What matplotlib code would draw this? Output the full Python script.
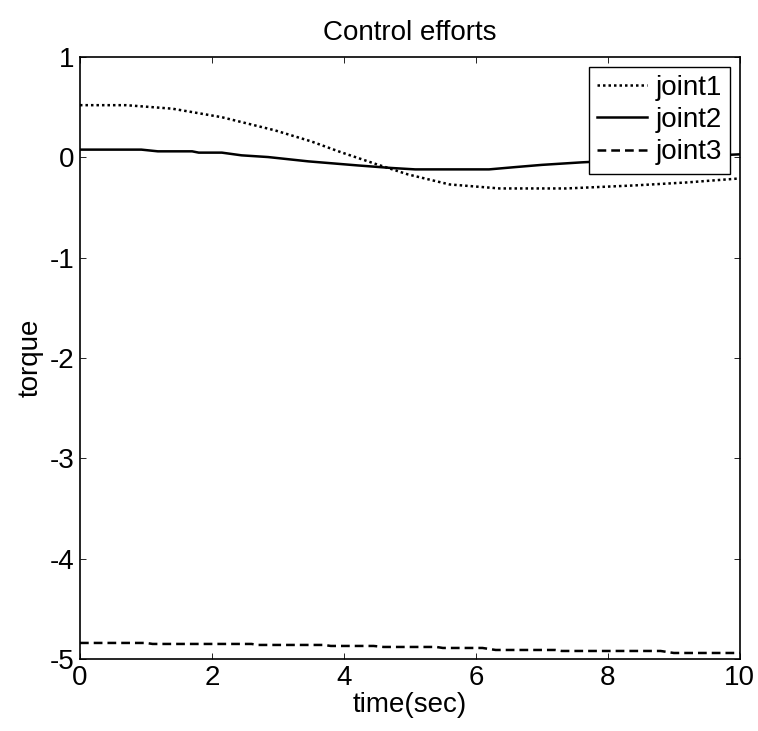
import numpy as np
import matplotlib
matplotlib.use("Agg")
import matplotlib.pyplot as plt

plt.rcParams['font.family'] = ['Liberation Sans', 'DejaVu Sans']
plt.rcParams['axes.unicode_minus'] = False

# joint1 (dotted)
t1 = [0, 0.7, 1.4, 2.15, 2.95, 3.5, 3.96, 4.5, 4.97, 5.6, 6.36, 7.37, 8.4, 9.2, 10]
j1 = [0.52, 0.52, 0.485, 0.40, 0.27, 0.16, 0.05, -0.07, -0.17, -0.27, -0.31, -0.31, -0.28, -0.25, -0.21]

# joint2 (solid)
t2 = [0, 0.93, 1.18, 1.7, 1.8, 2.15, 2.45, 2.85, 3.46, 4.2, 4.72, 5.08, 6.2, 6.6, 7.0, 7.6, 8.5, 9.3, 10]
j2 = [0.077, 0.077, 0.06, 0.06, 0.047, 0.047, 0.02, 0.003, -0.04, -0.08, -0.106, -0.12, -0.12, -0.097,
      -0.075, -0.05, -0.02, 0.01, 0.03]

# joint3 (dashed)
t3 = [0, 1.0, 1.1, 2.6, 2.7, 3.7, 3.8, 4.45, 4.6, 5.4, 5.5, 6.1, 6.3, 7.2, 7.3, 8.8, 9.0, 10]
j3 = [-4.84, -4.84, -4.85, -4.85, -4.86, -4.86, -4.87, -4.87, -4.88, -4.88, -4.89, -4.89,
      -4.91, -4.91, -4.92, -4.92, -4.94, -4.94]

xticks = [0, 2, 4, 6, 8, 10]
yticks = [1, 0, -1, -2, -3, -4, -5]

fig = plt.figure(figsize=(7.58, 7.31), dpi=100)
ax = fig.add_axes([0.1055, 0.0985, 0.8705, 0.8235])

ax.plot(t1, j1, color='black', lw=1.8, linestyle=(0, (1, 1.2)), label='joint1')
ax.plot(t2, j2, color='black', lw=1.8, linestyle='-', label='joint2')
ax.plot(t3, j3, color='black', lw=1.8, linestyle=(0, (3.5, 2)), label='joint3')

ax.set_xlim(0, 10)
ax.set_ylim(-5, 1)
ax.set_xticks(xticks)
ax.set_yticks(yticks)
ax.tick_params(direction='in', length=4, width=0.6, top=True, right=True,
               labelsize=20, pad=4)
for s in ax.spines.values():
    s.set_linewidth(1.2)

ax.set_title('Control efforts', fontsize=20, pad=12)
ax.set_xlabel('time(sec)', fontsize=20, labelpad=1)
ax.set_ylabel('torque', fontsize=20, labelpad=4)

leg = ax.legend(loc='upper right', fontsize=20, frameon=True, fancybox=False,
                edgecolor='black', framealpha=1, handlelength=1.8, handletextpad=0.3,
                labelspacing=0.22, borderpad=0.3, borderaxespad=0.35)
leg.get_frame().set_linewidth(1.0)

fig.savefig('out.png', dpi=100, facecolor='white')
